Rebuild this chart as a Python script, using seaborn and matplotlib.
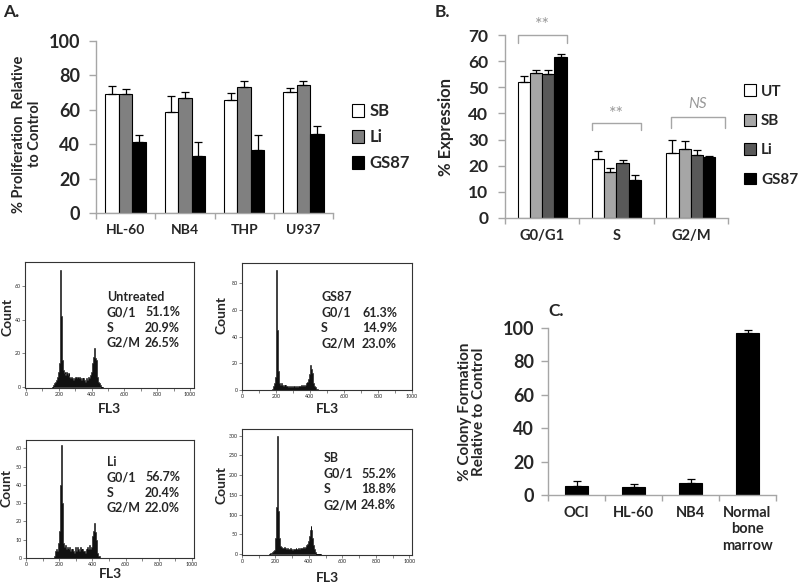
import numpy as np
import pandas as pd
import matplotlib.pyplot as plt
import seaborn as sns

# ---------- data ----------
# A. proliferation
cells_a = ["HL-60", "NB4", "THP", "U937"]
treat_a = ["SB", "Li", "GS87"]
sb_a = [69, 59, 65.5, 70.5]
li_a = [69, 67, 73.5, 74.5]
gs_a = [41.5, 33, 36.5, 46]
sb_a_err = [5, 9, 4, 2.3]
li_a_err = [3, 3.5, 3.5, 2]
gs_a_err = [4, 8.5, 9, 4.5]

# B. cell cycle phases
phases_b = ["G0/G1", "S", "G2/M"]
treat_b = ["UT", "SB", "Li", "GS87"]
ut_b = [52, 22.5, 25]
sb_b = [55.5, 17.5, 26.5]
li_b = [55, 21, 24.2]
gs_b = [61.5, 14.5, 23.2]
ut_b_err = [2.5, 3, 5]
sb_b_err = [1.3, 1.5, 3]
li_b_err = [1.8, 1, 1.8]
gs_b_err = [1.3, 1.8, 0.6]

# C. colony formation
cells_c = ["OCI", "HL-60", "NB4", "Normal\nbone\nmarrow"]
colony_c = [5.5, 4.5, 7.2, 97]
colony_c_err = [2.8, 1.8, 2.6, 2]

# flow cytometry histograms, FL3 bins of 5 starting at 160
fl3_start, fl3_width = 160, 5
untreated_counts = [0, 1, 2, 3, 3, 4, 6, 9, 14, 35,
                    70, 42, 16, 10, 8, 9, 7, 9, 8, 7,
                    8, 6, 5, 6, 5, 4, 4, 5, 6, 6,
                    5, 6, 5, 6, 5, 4, 5, 4, 5, 4,
                    3, 5, 4, 5, 6, 5, 7, 9, 11, 14,
                    18, 23, 17, 16, 12, 6, 3, 2, 1, 1,
                    0, 0]
gs87_counts = [0, 0, 0, 1, 2, 3, 5, 10, 90, 45,
               14, 7, 5, 4, 5, 4, 3, 4, 3, 4,
               3, 3, 2, 3, 3, 2, 3, 2, 3, 3,
               2, 3, 3, 2, 3, 3, 3, 4, 3, 3,
               4, 3, 4, 5, 4, 6, 8, 12, 19, 16,
               13, 9, 5, 3, 2, 1, 1, 0, 0, 0,
               0, 0]
li_counts = [0, 0, 1, 4, 5, 4, 5, 8, 15, 40,
             62, 30, 12, 8, 6, 7, 5, 6, 4, 5,
             6, 4, 5, 3, 5, 4, 3, 6, 4, 5,
             6, 5, 4, 6, 5, 3, 5, 4, 4, 3,
             5, 4, 6, 5, 7, 5, 6, 8, 12, 15,
             19, 14, 10, 5, 3, 1, 1, 0, 0, 0,
             0, 0]
sb_counts = [0, 1, 2, 3, 5, 7, 10, 18, 40, 120,
             300, 110, 40, 25, 20, 18, 16, 15, 17, 14,
             15, 13, 14, 12, 13, 14, 12, 13, 11, 12,
             13, 12, 14, 13, 12, 14, 13, 15, 14, 16,
             15, 17, 16, 18, 20, 22, 25, 32, 45, 62,
             72, 60, 40, 22, 12, 6, 3, 1, 0, 0,
             0, 0]
hist_names = ["Untreated", "GS87", "Li", "SB"]
hist_g01 = ["51.1%", "61.3%", "56.7%", "55.2%"]
hist_s = ["20.9%", "14.9%", "20.4%", "18.8%"]
hist_g2m = ["26.5%", "23.0%", "22.0%", "24.8%"]
hist_ymax = [60, 80, 60, 300]
hist_ystep = [20, 20, 10, 50]

# ---------- style ----------
sns.set_style("white")
plt.rcParams["font.family"] = ["Lato", "DejaVu Sans"]
plt.rcParams["font.weight"] = "bold"
GRAY = "#a6a6a6"

fig = plt.figure(figsize=(8, 5.85), dpi=100)
W, H = 800, 585


def px_axes(left, top, right, bottom):
    return fig.add_axes([left / W, 1 - bottom / H, (right - left) / W, (bottom - top) / H])


def style_bar_axes(ax, n, ymax, ystep, ysize=13, xsize=10, ypad=6.5):
    for s in ["top", "right"]:
        ax.spines[s].set_visible(False)
    for s in ["left", "bottom"]:
        ax.spines[s].set_color(GRAY)
        ax.spines[s].set_linewidth(1)
    ax.set_xlim(-0.5, n - 0.5)
    ax.set_ylim(0, ymax)
    ax.set_yticks(np.arange(0, ymax + 1, ystep))
    ax.set_xticks(np.arange(-0.5, n, 1), minor=True)
    ax.tick_params(axis="y", direction="out", length=5, width=1, color=GRAY,
                   labelsize=ysize, pad=ypad, left=True)
    ax.tick_params(axis="x", which="major", length=0, labelsize=xsize, pad=8)
    ax.tick_params(axis="x", which="minor", direction="out", length=4, width=1,
                   color=GRAY, bottom=True)
    for t in ax.get_yticklabels() + ax.get_xticklabels():
        t.set_fontweight("bold")
    ax.set_xlabel("")


def add_errors(ax, errs):
    for cont, err in zip(ax.containers, errs):
        xs = [b.get_x() + b.get_width() / 2 for b in cont]
        ys = [b.get_height() for b in cont]
        ax.errorbar(xs, ys, yerr=[np.zeros(len(err)), err], fmt="none",
                    ecolor="black", elinewidth=0.9, capsize=3, capthick=0.9, zorder=3)


# ---------- A ----------
dfa = pd.DataFrame({
    "cell": cells_a * 3,
    "treatment": np.repeat(treat_a, len(cells_a)),
    "value": sb_a + li_a + gs_a,
})
axA = px_axes(96, 41, 333, 213)
sns.barplot(data=dfa, x="cell", y="value", hue="treatment", order=cells_a,
            hue_order=treat_a, palette=["white", "#808080", "black"],
            edgecolor="black", linewidth=0.8, width=0.68, gap=0,
            errorbar=None, legend=False, ax=axA)
add_errors(axA, [sb_a_err, li_a_err, gs_a_err])
style_bar_axes(axA, len(cells_a), 100, 20)
axA.set_ylabel("% Proliferation  Relative\nto Control", fontsize=10.5,
               fontweight="bold", linespacing=1.2)
axA.yaxis.set_label_coords(-0.228, 0.46)
axA.legend(axA.containers, treat_a, loc="center left", bbox_to_anchor=(1.08, 0.44),
           frameon=False, handlelength=0.75, handleheight=0.75,
           handletextpad=0.3, labelspacing=0.6, borderpad=0, borderaxespad=0,
           prop={"weight": "bold", "size": 12})

# ---------- B ----------
dfb = pd.DataFrame({
    "phase": phases_b * 4,
    "treatment": np.repeat(treat_b, len(phases_b)),
    "value": ut_b + sb_b + li_b + gs_b,
})
axB = px_axes(505, 35, 728, 218)
sns.barplot(data=dfb, x="phase", y="value", hue="treatment", order=phases_b,
            hue_order=treat_b, palette=["white", "#a6a6a6", "#595959", "black"],
            edgecolor="black", linewidth=0.8, width=0.66, gap=0,
            errorbar=None, legend=False, ax=axB)
add_errors(axB, [ut_b_err, sb_b_err, li_b_err, gs_b_err])
style_bar_axes(axB, len(phases_b), 70, 10, ysize=12.5, xsize=10.5, ypad=7)
axB.set_ylabel("% Expression", fontsize=12, fontweight="bold")
axB.yaxis.set_label_coords(-0.23, 0.5)
axB.legend(axB.containers, treat_b, loc="center left", bbox_to_anchor=(1.07, 0.45),
           frameon=False, handlelength=0.8, handleheight=0.8,
           handletextpad=0.35, labelspacing=1.0, borderpad=0, borderaxespad=0,
           prop={"weight": "bold", "size": 11})

# significance brackets: (x0, x1, y, leg, text, text offset, italic)
brackets = [(-0.33, 0.33, 70, 3, "**", 2.0, False),
            (0.67, 1.33, 36.3, 2.6, "**", 1.5, False),
            (1.73, 2.46, 38.7, 4.3, "NS", 3.3, True)]
for x0, x1, y, leg, txt, off, ital in brackets:
    axB.plot([x0, x0, x1, x1], [y - leg, y, y, y - leg], color=GRAY, lw=1, clip_on=False)
    axB.text((x0 + x1) / 2, y + off, txt, ha="center", va="baseline", color="#999999",
             fontsize=11 if ital else 13, fontweight="normal",
             style="italic" if ital else "normal", clip_on=False)

# ---------- C ----------
dfc = pd.DataFrame({"cell": cells_c, "value": colony_c})
axC = px_axes(548, 328, 776, 495)
sns.barplot(data=dfc, x="cell", y="value", order=cells_c, color="black",
            edgecolor="black", linewidth=0.8, width=0.39, errorbar=None, ax=axC)
add_errors(axC, [colony_c_err])
style_bar_axes(axC, len(cells_c), 100, 20, ysize=13, xsize=10.5, ypad=5)
axC.set_ylabel("% Colony Formation\nRelative to Control", fontsize=11,
               fontweight="bold", linespacing=1.0)
axC.yaxis.set_label_coords(-0.27, 0.5)

# ---------- flow cytometry histograms ----------
hist_boxes = [(25, 262, 194, 388), (242, 263, 412, 390),
              (26, 440, 194, 558), (242, 429, 412, 555)]
hist_xlims = [(-6, 1024), (0, 1000), (0, 1012), (0, 1016)]
hist_ylims = [(-0.8, 74.5), (0, 95), (0, 64.5), (-2.5, 317)]
text_pos = [(0.485, 0.917, 0.722, 0.121), (0.465, 0.912, 0.732, 0.122),
            (0.482, 0.917, 0.814, 0.130), (0.482, 0.906, 0.770, 0.125)]
count_pos = [(-0.07, 0.56), (-0.088, 0.59), (-0.083, 0.59), (-0.088, 0.556)]
fl3_pos = [-0.12, -0.10, -0.085, -0.135]
all_counts = [untreated_counts, gs87_counts, li_counts, sb_counts]

for i, counts in enumerate(all_counts):
    ax = px_axes(*hist_boxes[i])
    n_bins = len(counts)
    centers = fl3_start + fl3_width * (np.arange(n_bins) + 0.5)
    dfh = pd.DataFrame({"fl3": centers, "n": counts})
    sns.histplot(data=dfh, x="fl3", weights="n", binwidth=fl3_width,
                 binrange=(fl3_start, fl3_start + fl3_width * n_bins), element="step",
                 fill=True, color="#111111", alpha=1, linewidth=0.4, ax=ax)
    ax.set_xlim(*hist_xlims[i])
    ax.set_ylim(*hist_ylims[i])
    ax.set_xticks(np.arange(0, 1001, 200))
    ax.set_xticks(np.arange(100, 1000, 200), minor=True)
    ax.set_yticks(np.arange(0, hist_ymax[i] + 1, hist_ystep[i]))
    ax.tick_params(axis="both", which="both", direction="out", length=2, width=0.5,
                   color="#555555", labelsize=3.8, pad=1, left=True, bottom=True)
    for t in ax.get_xticklabels() + ax.get_yticklabels():
        t.set_fontweight("normal")
    for s in ax.spines.values():
        s.set_color("#333333")
        s.set_linewidth(0.8)
    ax.set_ylabel("Count", fontsize=10, fontweight="bold")
    ax.yaxis.set_label_coords(*count_pos[i])
    ax.set_xlabel("FL3", fontsize=10, fontweight="bold")
    ax.xaxis.set_label_coords(0.5, fl3_pos[i])
    xl, xr, y0, dy = text_pos[i]
    ax.text(xl, y0, hist_names[i], transform=ax.transAxes, ha="left", va="center",
            fontsize=9, fontweight="bold")
    rows = [("G0/1", hist_g01[i]), ("S", hist_s[i]), ("G2/M", hist_g2m[i])]
    for k, (lab, val) in enumerate(rows, start=1):
        ax.text(xl, y0 - k * dy, lab, transform=ax.transAxes, ha="left", va="center",
                fontsize=9, fontweight="bold")
        ax.text(xr, y0 - k * dy, val, transform=ax.transAxes, ha="right", va="center",
                fontsize=9, fontweight="bold")

# panel letters
fig.text(3 / W, 1 - 4 / H, "A.", ha="left", va="top", fontsize=12.5, fontweight="bold")
fig.text(435 / W, 1 - 4 / H, "B.", ha="left", va="top", fontsize=12.5, fontweight="bold")
fig.text(548 / W, 1 - 303 / H, "C.", ha="left", va="top", fontsize=12.5, fontweight="bold")

fig.savefig("out.png", dpi=100)
